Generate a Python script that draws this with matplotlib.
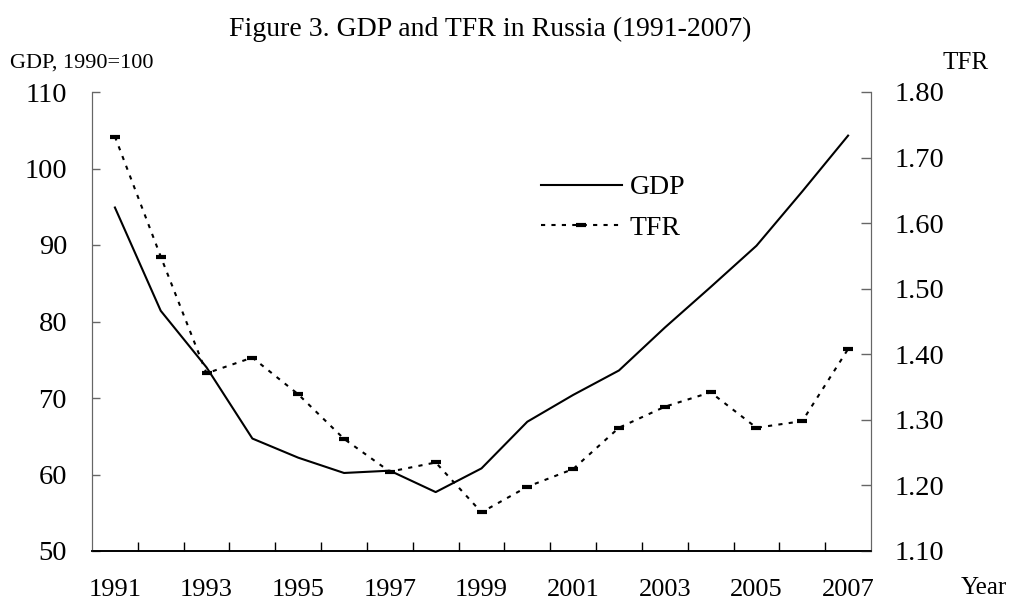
import numpy as np
import matplotlib
matplotlib.use("Agg")
import matplotlib.pyplot as plt

plt.rcParams['font.family'] = ['Liberation Serif', 'DejaVu Serif']

years = list(range(1991, 2008))
gdp = [94.9, 81.4, 74.0, 64.7, 62.2, 60.2, 60.5, 57.7, 60.8, 66.9,
       70.4, 73.6, 79.2, 84.5, 89.9, 97.0, 104.3]
tfr = [1.732, 1.549, 1.371, 1.395, 1.339, 1.271, 1.221, 1.235, 1.159, 1.198,
       1.225, 1.288, 1.320, 1.342, 1.288, 1.298, 1.408]
gdp_ticks = [50, 60, 70, 80, 90, 100, 110]
tfr_ticks = [1.10, 1.20, 1.30, 1.40, 1.50, 1.60, 1.70, 1.80]

W, H = 1011, 607
fig = plt.figure(figsize=(W / 100, H / 100), dpi=100)
left, right, top, bottom = 92, 871, 92, 551
ax = fig.add_axes([left / W, 1 - bottom / H, (right - left) / W, (bottom - top) / H])
ax2 = ax.twinx()

x = np.arange(len(years))
l1, = ax.plot(x, gdp, color='black', lw=1.5, label='GDP')
l2, = ax2.plot(x, tfr, color='black', lw=1.5, ls=(0, (2, 3)),
               marker='_', ms=7, mew=3, label='TFR')

ax.set_xlim(-0.5, len(years) - 0.5)
ax.set_ylim(50, 110)
ax2.set_ylim(1.10, 1.80)

# ticks between categories, labels on every other year
ax.set_xticks(np.arange(0.5, len(years) - 1, 1))
ax.set_xticklabels([])
ax.set_xticks(x[::2], minor=True)
ax.set_xticklabels([str(y) for y in years[::2]], minor=True)
ax.tick_params(axis='x', which='major', direction='in', length=6.5, width=1, color='black')
ax.tick_params(axis='x', which='minor', length=0, pad=20, labelsize=19)

ax.set_yticks(gdp_ticks)
ax.tick_params(axis='y', direction='in', length=6, width=1, color='#666666', pad=18, labelsize=20.5)
ax2.set_yticks(tfr_ticks)
ax2.set_yticklabels(['%.2f' % t for t in tfr_ticks])
ax2.tick_params(axis='y', direction='in', length=7, width=1, color='#666666', pad=17, labelsize=20.5)

for a in (ax, ax2):
    a.spines['top'].set_visible(False)
    a.spines['left'].set_color('#666666')
    a.spines['right'].set_color('#666666')
    a.spines['bottom'].set_color('black')
    a.spines['bottom'].set_linewidth(1.2)

fig.legend(handles=[l1, l2], loc='upper left', bbox_to_anchor=(541 / W, 1 - 175 / H),
           frameon=False, fontsize=20, handlelength=2.9, handletextpad=0.3,
           labelspacing=0.55, borderpad=0, borderaxespad=0)

fig.text(490 / W, 1 - 29 / H, 'Figure 3. GDP and TFR in Russia (1991-2007)',
         ha='center', va='center', fontsize=20)
fig.text(10 / W, 1 - 63 / H, 'GDP, 1990=100', ha='left', va='center', fontsize=16)
fig.text(966 / W, 1 - 63 / H, 'TFR', ha='center', va='center', fontsize=18)
fig.text(984 / W, 1 - 588 / H, 'Year', ha='center', va='center', fontsize=18)

fig.savefig('out.png', dpi=100)
